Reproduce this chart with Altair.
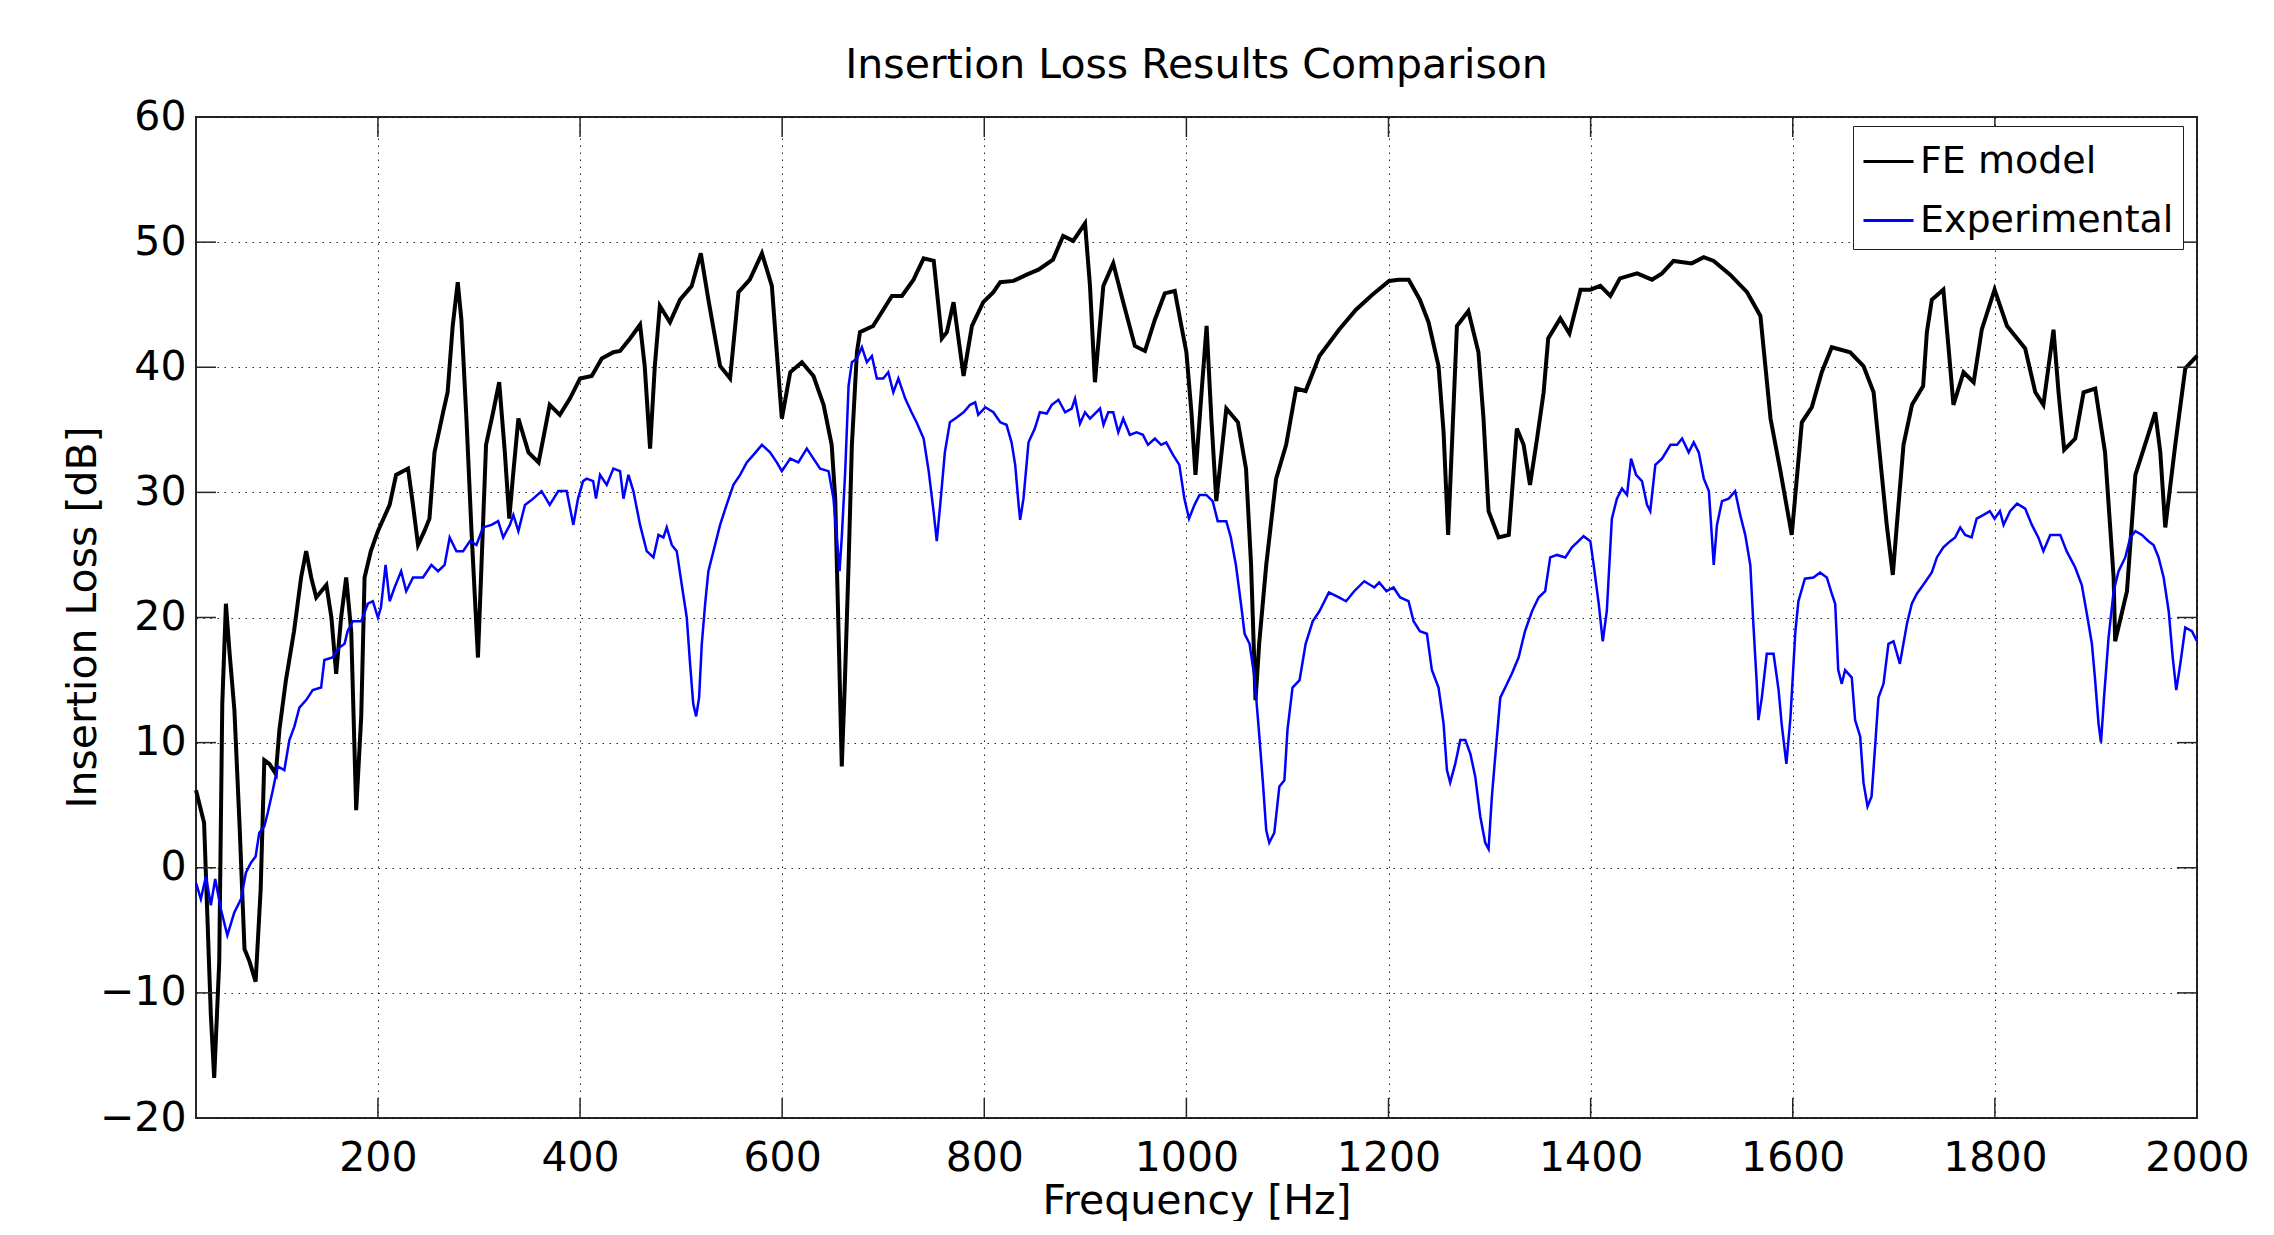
import altair as alt
import pandas as pd

# ---------------- data ----------------
fe_freq = [20, 28, 34.7, 38, 43, 46, 49.6, 53, 58, 63, 68, 73, 79, 84, 87.6, 92.6, 99, 102.5, 109, 117,
           124, 129, 134, 139, 149, 154, 158.7, 163.6, 168.6, 173.6, 178.5, 183.5, 186.8, 193, 200, 211.6,
           218, 229.8, 234.7, 239.7, 246, 251, 256, 264.5, 269, 274, 279, 282.6, 287.6, 292.6, 299, 302.5,
           307, 314, 320, 325.6, 330, 334, 339, 349, 359, 363.6, 370, 380, 390, 400, 411.6, 421.5, 433,
           439.6, 449.5, 459.4, 464, 469.3, 474, 479, 489, 499, 510.5, 519.5, 527, 538.6, 548.5, 556.8, 568,
           580, 589.8, 594.7, 599.7, 608, 619.5, 631, 641, 649, 652.5, 655.8, 659, 662, 665.7, 669, 674, 677,
           690, 708.6, 718.5, 730, 740, 750, 758, 763, 769.6, 779.5, 787.8, 799, 809, 815.8, 829, 842, 853.6,
           868, 878, 888, 899.7, 904.6, 909.5, 917.8, 927.6, 937.5, 949, 959, 968.8, 978.6, 988.5, 995, 1000,
           1005, 1009, 1015, 1020, 1024.7, 1029.6, 1039.5, 1051, 1059, 1064, 1068.4, 1072, 1079, 1088.8,
           1098.7, 1108.6, 1118, 1131.6, 1151, 1167.8, 1184, 1200.6, 1210, 1220, 1231, 1239.6, 1249.5,
           1254.5, 1259, 1267.7, 1279, 1289, 1294, 1299, 1309, 1319, 1327, 1333.7, 1340, 1347, 1353.5, 1358,
           1370, 1379, 1390, 1399.7, 1409.6, 1419.5, 1429, 1446, 1460.7, 1470.6, 1482, 1500, 1511.9, 1521.8,
           1538, 1554.8, 1568, 1578, 1587.8, 1599, 1609, 1618.8, 1628.7, 1638.6, 1656.8, 1670, 1680, 1686.5,
           1693, 1699, 1703, 1709.6, 1718, 1729, 1732.7, 1737.6, 1749, 1754, 1759, 1769, 1779, 1787, 1799.7,
           1812, 1830, 1840, 1848, 1851.5, 1858, 1863, 1868.6, 1879.5, 1887.8, 1899.3, 1909, 1917.5, 1919,
           1930.7, 1939, 1950.5, 1958.7, 1963.7, 1968.6, 1978.5, 1988.4, 2000]
fe_il = [6.2, 3.6, -11.8, -16.8, -7.5, 13.1, 21.1, 17.4, 12.6, 3.6, -6.5, -7.5, -9.1, -1.7, 8.6, 8.3, 7.5,
         11.0, 15.0, 18.9, 23.2, 25.3, 23.2, 21.6, 22.6, 20.0, 15.5, 20.0, 23.2, 18.9, 4.6, 12.1, 23.2, 25.3,
         26.9, 29.0, 31.4, 31.9, 29.0, 25.8, 26.9, 27.9, 33.2, 36.4, 38.0, 43.3, 46.8, 43.8, 35.9, 26.9, 16.8,
         24.2, 33.8, 36.4, 38.8, 33.2, 27.9, 31.6, 35.9, 33.2, 32.4, 34.3, 37.0, 36.2, 37.5, 39.1, 39.3, 40.7,
         41.2, 41.3, 42.3, 43.4, 40.1, 33.5, 40.1, 44.9, 43.6, 45.4, 46.5, 49.1, 45.4, 40.1, 39.1, 46.0, 47.0,
         49.1, 46.5, 41.2, 35.9, 39.6, 40.4, 39.3, 37.0, 33.8, 29.5, 18.9, 8.1, 14.7, 24.2, 33.8, 41.2, 42.8,
         43.3, 45.7, 45.7, 47.0, 48.7, 48.5, 42.3, 42.8, 45.2, 39.3, 43.3, 45.2, 46.0, 46.8, 46.9, 47.4, 47.8,
         48.6, 50.5, 50.1, 51.5, 46.5, 38.8, 46.5, 48.3, 45.2, 41.7, 41.3, 43.8, 45.9, 46.1, 43.3, 41.2,
         36.4, 31.4, 38.0, 43.3, 35.9, 29.3, 36.7, 35.6, 31.9, 24.2, 13.4, 17.9, 24.2, 31.1,
         33.8, 38.3, 38.1, 40.9, 43.0, 44.6, 45.8, 46.9, 47.0, 47.0, 45.4, 43.6, 40.1,
         34.8, 26.6, 43.3, 44.5, 41.2, 35.9, 28.5, 26.4, 26.6, 35.1, 33.8, 30.6, 34.3, 38.0, 42.3,
         43.9, 42.7, 46.2, 46.2, 46.5, 45.7, 47.1, 47.5, 47.0, 47.5, 48.5, 48.3, 48.8, 48.5,
         47.4, 46.0, 44.1, 35.9, 31.7, 26.6, 35.6, 36.8, 39.6, 41.6, 41.2, 40.1, 38.0, 32.7,
         27.4, 23.4, 27.4, 33.8, 37.0, 38.5, 42.8, 45.4, 46.2, 41.7, 37.0, 39.6, 38.8, 43.0, 46.2,
         43.3, 41.5, 38.0, 37.0, 39.1, 43.0, 38.0, 33.4, 34.3, 38.0, 38.3, 33.2, 23.2, 18.1,
         22.1, 31.4, 34.3, 36.4, 33.2, 27.2, 33.8, 39.9, 40.9]

exp_freq = [20, 24.8, 29.8, 34.7, 39, 44.6, 51, 57.8, 64.5, 69.4, 74.4, 79, 82.6, 87.6, 91, 96, 100.8, 107.4,
            112.4, 117.4, 122.3, 129, 135.5, 143.8, 147, 155, 161.9, 167, 170, 175.2, 183.5, 190, 195, 200,
            203, 207.6, 211.6, 216.5, 223, 228, 234.7, 244.6, 252.9, 259.5, 266, 271, 277.7, 284.3, 291,
            297.5, 304, 312.4, 319, 324, 330.6, 334, 339, 345.5, 353.7, 362, 370, 378.5, 386.8, 393.4, 398,
            403, 406.6, 413, 415.8, 419.8, 426.4, 433, 439.6, 443, 447.9, 452.8, 459.4, 466, 472.6, 477.6,
            482.5, 485.8, 490.8, 495.7, 500.7, 505.6, 508.9, 512, 514.9, 517.8, 520.5, 523.8, 527, 532,
            538.6, 545, 551.8, 558.4, 565, 571.6, 580, 588, 594.7, 599.7, 608, 616, 624.4, 631, 637.6, 645.9,
            650.8, 654, 656.8, 659, 662.4, 665.7, 669, 674, 678.9, 683.8, 688.8, 693.7, 700, 705, 710, 715,
            721.8, 728, 733, 740, 745, 749.8, 753, 756.4, 761, 766, 773, 779.5, 786, 791, 794, 801, 809,
            815.8, 822, 827, 830.6, 834, 835.5, 838.8, 843.8, 850, 855, 861.8, 866.8, 873.4, 880, 886.5,
            889.8, 894.7, 899.7, 904.6, 914.5, 918, 922.7, 927.6, 932.6, 937.5, 944, 950.7, 957, 962, 968.8,
            975, 980, 986.8, 993, 998, 1002.6, 1008, 1013, 1019.7, 1026, 1031, 1039.5, 1044, 1049, 1054,
            1057.6, 1062.5, 1067.4, 1071.7, 1075.7, 1079, 1082, 1087, 1092, 1097, 1100, 1105, 1112, 1118,
            1125, 1131.6, 1141, 1151, 1158, 1166, 1176, 1186, 1190.8, 1198, 1205, 1211.5, 1219.8, 1224.8,
            1231, 1238, 1242.9, 1249.5, 1254.5, 1257.8, 1261, 1266, 1271, 1276, 1281, 1285.8, 1290.8, 1295.7,
            1299, 1302.3, 1305.6, 1310.6, 1315.5, 1322, 1328.7, 1335, 1342, 1348.5, 1355, 1360, 1366.7, 1375,
            1381.5, 1388, 1393, 1399.7, 1403, 1408, 1412, 1416, 1421, 1426, 1431, 1436, 1440, 1445, 1450.8,
            1455.8, 1459, 1464, 1470.6, 1479, 1485.5, 1490.5, 1497, 1502, 1507, 1512, 1517, 1521.8, 1525,
            1530, 1536.6, 1543, 1548, 1553, 1558, 1561, 1564.4, 1566, 1569.4, 1574.3, 1581, 1586, 1589,
            1593.7, 1597.7, 1602.6, 1605.6, 1612, 1620.5, 1627, 1633.7, 1638.6, 1642, 1645, 1648.5, 1651.8,
            1658.4, 1661.7, 1666.7, 1670, 1674, 1678, 1681.5, 1684.8, 1689.8, 1694.7, 1699.7, 1706, 1713,
            1717.8, 1722.8, 1729, 1737.6, 1742.6, 1749, 1755.8, 1760.7, 1765.7, 1770.6, 1777, 1782, 1788.8,
            1795, 1799.7, 1805, 1808.6, 1815, 1822, 1830, 1836.6, 1843, 1848, 1854.8, 1864.7, 1871, 1879.5,
            1886, 1891, 1896, 1899, 1902.6, 1905, 1908, 1912.5, 1917.5, 1922.4, 1929, 1934, 1939, 1945.5,
            1952, 1957, 1962, 1967, 1972, 1976, 1979.5, 1983.5, 1988.4, 1995, 2000]
exp_il = [-1.2, -2.5, -0.7, -3.0, -0.9, -3.3, -5.4, -3.6, -2.5, -0.4, 0.4, 0.9, 2.8, 3.3, 4.4, 6.2, 8.1, 7.8,
          10.2, 11.3, 12.8, 13.4, 14.2, 14.4, 16.6, 16.8, 17.6, 17.9, 18.9, 19.7, 19.7, 21.1, 21.3, 20.0,
          20.8, 24.2, 21.3, 22.4, 23.7, 22.1, 23.2, 23.2, 24.2, 23.7, 24.2, 26.4, 25.3, 25.3, 26.1,
          25.8, 27.2, 27.4, 27.7, 26.4, 27.4, 28.2, 26.9, 29.0, 29.5, 30.1, 29.0, 30.1, 30.1, 27.4, 29.5,
          30.9, 31.1, 30.9, 29.5, 31.4, 30.6, 31.9, 31.7, 29.5, 31.4, 30.1, 27.4, 25.3, 24.8, 26.6,
          26.4, 27.2, 25.8, 25.3, 22.6, 20.0, 16.3, 13.1, 12.1, 13.6, 17.9, 21.1, 23.7, 25.3,
          27.4, 29.0, 30.6, 31.4, 32.4, 33.0, 33.8, 33.2, 32.4, 31.7, 32.7, 32.4, 33.5, 32.7, 31.9, 31.7,
          29.5, 26.4, 23.7, 26.4, 31.7, 38.5, 40.4, 40.7, 41.6, 40.4, 40.9, 39.1, 39.1, 39.6, 38.0, 39.1,
          37.5, 36.4, 35.6, 34.3, 31.7, 28.5, 26.1, 29.0, 33.2, 35.6, 36.0, 36.4, 37.0, 37.2, 36.2, 36.8, 36.4,
          35.6, 35.4, 34.0, 32.2, 29.0, 27.8, 29.5, 34.0, 35.1, 36.4, 36.3, 37.0, 37.4, 36.4, 36.7,
          37.5, 35.5, 36.4, 35.9, 36.7, 35.4, 36.4, 36.4, 34.8, 35.9, 34.6, 34.8, 34.6, 33.8, 34.3,
          33.8, 34.0, 33.0, 32.2, 29.5, 27.9, 29.0, 29.8, 29.8, 29.3, 27.7, 27.7, 26.4, 24.2, 21.1,
          18.7, 17.9, 15.2, 11.0, 6.8, 3.0, 2.0, 2.8, 6.5, 7.0, 11.0, 14.4, 15.0, 17.9,
          19.7, 20.5, 22.0, 21.6, 21.3, 22.1, 22.9, 22.4, 22.8, 22.1, 22.4, 21.6, 21.3, 19.7,
          18.9, 18.7, 15.8, 14.4, 11.5, 7.8, 6.8, 8.3, 10.2, 10.2, 9.1, 7.3, 4.1, 2.0,
          1.5, 5.7, 8.9, 13.6, 14.4, 15.5, 16.8, 18.9, 20.5, 21.6, 22.1, 24.8, 25.0, 24.8,
          25.6, 26.1, 26.5, 26.1, 24.2, 21.1, 18.1, 20.5, 27.9, 29.5, 30.3, 29.8, 32.7, 31.4, 30.9,
          29.0, 28.5, 32.2, 32.7, 33.8, 33.8, 34.3, 33.2, 34.0, 33.2, 31.1, 30.1, 24.2, 27.4,
          29.3, 29.5, 30.1, 28.2, 26.6, 24.2, 19.5, 14.7, 11.8, 13.6, 17.1, 17.1, 14.2, 11.5,
          8.3, 12.0, 18.9, 21.3, 23.1, 23.2, 23.6, 23.2, 21.9, 21.1, 15.8, 14.7, 15.8,
          15.2, 11.8, 10.5, 6.8, 4.9, 5.7, 9.7, 13.6, 14.7, 17.9, 18.1, 16.3, 19.5,
          21.1, 21.9, 22.6, 23.6, 24.8, 25.6, 26.1, 26.4, 27.2, 26.6, 26.4, 27.9, 28.2,
          28.5, 27.9, 28.5, 27.4, 28.5, 29.1, 28.7, 27.4, 26.4, 25.3, 26.6, 26.6, 25.3, 24.0,
          22.6, 20.3, 17.9, 15.2, 11.5, 10.0, 13.6, 18.4, 22.1, 23.7, 24.8, 26.4, 26.9, 26.6,
          26.1, 25.8, 24.8, 23.2, 20.5, 16.8, 14.2, 16.3, 19.2, 18.9, 18.1]

x_ticks = [200, 400, 600, 800, 1000, 1200, 1400, 1600, 1800, 2000]
y_ticks = [-20, -10, 0, 10, 20, 30, 40, 50, 60]
series_names = ["FE model", "Experimental"]
series_colors = ["#000000", "#0000ff"]

# ---------------- chart ----------------
W, H = 2001, 1001
FONT = "DejaVu Sans"

fe_df = pd.DataFrame({"freq": fe_freq, "il": fe_il, "series": series_names[0]})
exp_df = pd.DataFrame({"freq": exp_freq, "il": exp_il, "series": series_names[1]})
xt_df = pd.DataFrame({"freq": x_ticks})
yt_df = pd.DataFrame({"il": y_ticks})

xscale = alt.Scale(domain=[20, 2000], nice=False, zero=False)
yscale = alt.Scale(domain=[-20, 60], nice=False, zero=False)

common_axis = dict(grid=True, gridColor="black", gridDash=[1.5, 5.5], gridWidth=1, gridOpacity=0.85,
                   domain=False, ticks=False, labelFlush=False,
                   labelFont=FONT, labelFontSize=41, labelColor="black",
                   titleFont=FONT, titleFontSize=41, titleFontWeight="normal", titleColor="black",
                   titleBaseline="alphabetic")
x_axis = alt.Axis(values=x_ticks, title="Frequency [Hz]", format="d",
                  labelPadding=20, titleY=95, **common_axis)
y_axis = alt.Axis(values=y_ticks, title="Insertion Loss [dB]",
                  labelPadding=10, titleX=-101, titleY=500, **common_axis)

x_enc = alt.X("freq:Q", scale=xscale, axis=x_axis)
y_enc = alt.Y("il:Q", scale=yscale, axis=y_axis)
color_enc = alt.Color("series:N",
                      scale=alt.Scale(domain=series_names, range=series_colors),
                      legend=alt.Legend(title=None, orient="none", legendX=1657, legendY=9,
                                        symbolType="stroke", symbolSize=2500, symbolStrokeWidth=3,
                                        labelFont=FONT, labelFontSize=38, labelColor="black",
                                        labelOffset=5, labelLimit=500,
                                        strokeColor="#222222", fillColor="white",
                                        padding=9, rowPadding=13))

fe_line = alt.Chart(fe_df).mark_line(strokeWidth=4).encode(x=x_enc, y=y_enc, color=color_enc)
exp_line = alt.Chart(exp_df).mark_line(strokeWidth=2.5).encode(x=x_enc, y=y_enc, color=color_enc)

# inward tick marks on all four sides (MATLAB box style)
tick_style = dict(color="#262626", strokeWidth=1.5)
ticks_bottom = alt.Chart(xt_df).mark_rule(**tick_style).encode(x=x_enc, y=alt.value(H), y2=alt.value(H - 20))
ticks_top = alt.Chart(xt_df).mark_rule(**tick_style).encode(x=x_enc, y=alt.value(0), y2=alt.value(20))
ticks_left = alt.Chart(yt_df).mark_rule(**tick_style).encode(y=y_enc, x=alt.value(0), x2=alt.value(20))
ticks_right = alt.Chart(yt_df).mark_rule(**tick_style).encode(y=y_enc, x=alt.value(W), x2=alt.value(W - 20))

chart = alt.layer(fe_line, exp_line, ticks_bottom, ticks_top, ticks_left, ticks_right).properties(
    width=W, height=H,
    title=alt.TitleParams("Insertion Loss Results Comparison", font=FONT, fontSize=41,
                          fontWeight="normal", color="black", anchor="middle",
                          frame="group", baseline="alphabetic", offset=-23),
    padding={"left": 54, "top": 37, "right": 10, "bottom": 0},
).configure_view(
    stroke="#262626", strokeWidth=2
)

chart.save("out.html", embed_options={"renderer": "svg", "actions": False})
